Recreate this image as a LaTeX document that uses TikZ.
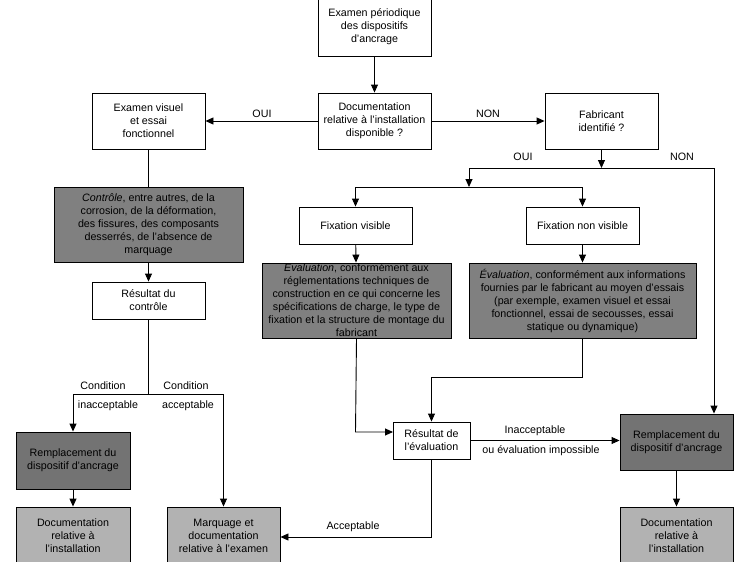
\documentclass[tikz,border=0pt]{standalone}
\usepackage{fontspec}
\setmainfont{Liberation Sans}
\usetikzlibrary{arrows.meta}
\definecolor{darkbox}{HTML}{737373}
\definecolor{midbox}{HTML}{808080}
\definecolor{lightbox}{HTML}{B2B2B2}
\tikzset{
  box/.style={draw=black, line width=0.9pt, inner sep=0pt, align=center,
    font=\fontsize{10.7}{13}\selectfont},
  whitebox/.style={box, fill=white},
  greybox/.style={box, fill=midbox},
  darkgrey/.style={box, fill=darkbox},
  lightgrey/.style={box, fill=lightbox},
  conn/.style={line width=0.9pt, draw=black},
  arr/.style={conn, -{Triangle[length=8pt,width=7pt]}},
  lbl/.style={inner sep=0pt, font=\fontsize{10.7}{13}\selectfont},
}
\begin{document}
\begin{tikzpicture}[x=1pt,y=-1pt]
\useasboundingbox (0,0) rectangle (750,562);
\fill[white] (0,0) rectangle (750,562);
\begin{scope}
\clip (0,0) rectangle (750,562);
% nodes
\node[whitebox, minimum width=113pt, minimum height=58pt] (exam) at (374.5,27) {Examen périodique\\des dispositifs\\d’ancrage};
\node[whitebox, minimum width=113pt, minimum height=56pt] (doc) at (374.5,121) {Documentation\\relative à l’installation\\disponible ?};
\node[whitebox, minimum width=113pt, minimum height=56pt] (visuel) at (148.5,121) {Examen visuel\\et essai\\fonctionnel};
\node[whitebox, minimum width=113pt, minimum height=56pt] (fab) at (601.5,121) {Fabricant\\identifié ?};
\node[greybox, minimum width=189pt, minimum height=75pt] (ctrl) at (148.5,224.5) {\textit{Contrôle}, entre autres, de la\\corrosion, de la déformation,\\des fissures, des composants\\desserrés, de l’absence de\\marquage};
\node[whitebox, minimum width=113pt, minimum height=37pt] (resctrl) at (148.5,300.5) {Résultat du\\contrôle};
\node[whitebox, minimum width=113pt, minimum height=37pt] (fixvis) at (355.5,225.5) {Fixation visible};
\node[whitebox, minimum width=113pt, minimum height=37pt] (fixnon) at (582.5,225.5) {Fixation non visible};
\node[greybox, minimum width=189pt, minimum height=75pt] (evalL) at (356.5,300.5) {\textit{Evaluation}, conformément aux\\réglementations techniques de\\construction en ce qui concerne les\\spécifications de charge, le type de\\fixation et la structure de montage du\\fabricant};
\node[greybox, minimum width=227pt, minimum height=75pt] (evalR) at (582.5,300.5) {\textit{Évaluation}, conformément aux informations\\fournies par le fabricant au moyen d’essais\\(par exemple, examen visuel et essai\\fonctionnel, essai de secousses, essai\\statique ou dynamique)};
\node[darkgrey, minimum width=114pt, minimum height=57pt] (remL) at (73,460.5) {Remplacement du\\dispositif d’ancrage};
\node[lightgrey, minimum width=114pt, minimum height=58pt] (docL) at (73,536) {Documentation\\relative à\\l’installation};
\node[lightgrey, minimum width=113pt, minimum height=58pt] (marq) at (223.5,536) {Marquage et\\documentation\\relative à l’examen};
\node[whitebox, minimum width=77pt, minimum height=37pt] (reseval) at (431.5,440.5) {Résultat de\\l’évaluation};
\node[darkgrey, minimum width=113pt, minimum height=56pt] (remR) at (676.5,442) {Remplacement du\\dispositif d’ancrage};
\node[lightgrey, minimum width=113pt, minimum height=58pt] (docR) at (676.5,536) {Documentation\\relative à\\l’installation};
% junction coordinates
\coordinate (j1) at (601.5,168);
\coordinate (j2) at (469,168);
\coordinate (j3) at (714,168);
\coordinate (j4) at (469,187);
\coordinate (j5) at (355.5,187);
\coordinate (j6) at (582.5,187);
\coordinate (k1) at (355.5,432);
\coordinate (k2) at (393,432);
\coordinate (m1) at (582.5,377);
\coordinate (m2) at (431.5,377);
\coordinate (n1) at (431.5,537);
\coordinate (c1) at (148.5,394);
\coordinate (c2) at (73,394);
\coordinate (c3) at (223.5,394);
% connectors
\draw[arr] (exam) -- (doc);
\draw[arr] (doc) -- (visuel);
\draw[arr] (doc) -- (fab);
\draw[arr] (fab) -- (j1);
\draw[conn] (j2) -- (j3);
\draw[arr] (j2) -- (j4);
\draw[arr] (j3) -- (j3 |- remR.north);
\draw[conn] (j5) -- (j6);
\draw[arr] (j5) -- (fixvis);
\draw[arr] (j6) -- (fixnon);
\draw[arr] (fixvis) -- (evalL);
\draw[arr] (fixnon) -- (evalR);
\draw[arr] (evalL.south) -- (k1) -- (k2);
\draw[arr] (evalR.south) -- (m1) -- (m2) -- (reseval.north);
\draw[arr] (reseval.east) -- (reseval.east -| remR.west);
\draw[arr] (reseval.south) -- (n1) -- (n1 -| marq.east);
\draw[conn] (visuel) -- (ctrl);
\draw[arr] (ctrl) -- (resctrl);
\draw[conn] (resctrl.south) -- (c1);
\draw[conn] (c2) -- (c3);
\draw[arr] (c2) -- (remL);
\draw[arr] (c3) -- (marq);
\draw[arr] (remL) -- (docL);
\draw[arr] (remR) -- (docR);
% labels
\node[lbl] (l1) at (262,114) {OUI};
\node[lbl] (l2) at (488,114) {NON};
\node[lbl] (l3) at (523,157) {OUI};
\node[lbl] (l4) at (682,157) {NON};
\node[lbl] (l5) at (103,386) {Condition};
\node[lbl] (l6) at (108,406) {inacceptable};
\node[lbl] (l7) at (186,386) {Condition};
\node[lbl] (l8) at (188,406) {acceptable};
\node[lbl] (l9) at (535,431) {Inacceptable};
\node[lbl] (l10) at (541,451) {ou évaluation impossible};
\node[lbl] (l11) at (353,527) {Acceptable};
\end{scope}
\end{tikzpicture}
\end{document}
